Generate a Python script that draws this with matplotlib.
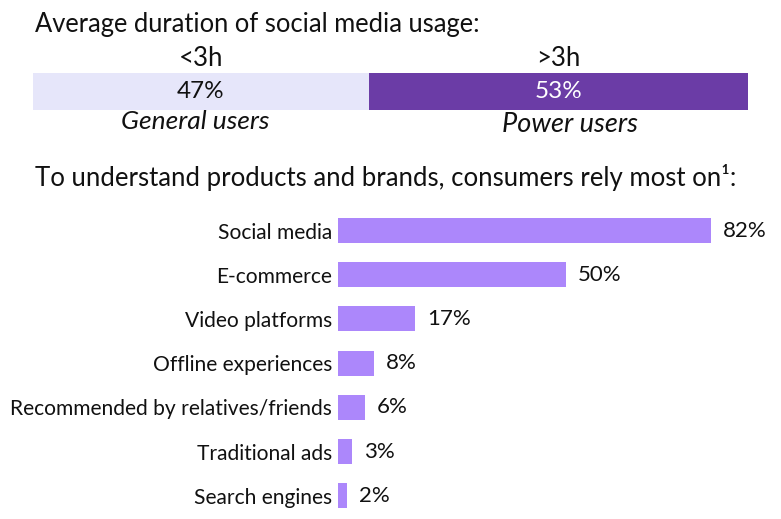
import matplotlib
matplotlib.use("Agg")
import matplotlib.pyplot as plt

plt.rcParams['font.family'] = ['Lato', 'DejaVu Sans']

# data
usage_groups = ['<3h', '>3h']
usage_names = ['General users', 'Power users']
usage_share = [47, 53]
usage_colors = ['#E6E6FA', '#6B3CA6']
usage_text_colors = ['#111111', '#FFFFFF']

sources = ['Social media', 'E-commerce', 'Video platforms', 'Offline experiences',
           'Recommended by relatives/friends', 'Traditional ads', 'Search engines']
source_share = [82, 50, 17, 8, 6, 3, 2]
bar_color = '#AC87FB'

W, H = 781, 519
fig = plt.figure(figsize=(W / 100, H / 100), dpi=100)


def fx(px):
    return px / W


def fy(py):
    return 1 - py / H


# titles
fig.text(fx(35), fy(32), 'Average duration of social media usage:', fontsize=18.4,
         ha='left', va='baseline', color='#111111')
fig.text(fx(35), fy(186), 'To understand products and brands, consumers rely most on¹:',
         fontsize=18.5, ha='left', va='baseline', color='#111111')

# top split bar
ax_top = fig.add_axes([fx(33), fy(110), fx(748) - fx(33), (110 - 73) / H])
left = 0
name_pos = [22.7, 75.1]
for i, v in enumerate(usage_share):
    ax_top.barh(0, v, left=left, height=1, color=usage_colors[i])
    mid = left + v / 2
    ax_top.text(mid, 0, f'{v}%', ha='center', va='center', fontsize=17.5,
                color=usage_text_colors[i])
    ax_top.text(mid, 1.0 + (73 - 66) / 37, usage_groups[i], ha='center', va='baseline',
                fontsize=18.5, color='#111111',
                transform=ax_top.get_xaxis_transform())
    left += v
ax_top.text(name_pos[0], -(129 - 110) / 37, usage_names[0], ha='center', va='baseline',
            fontsize=19, style='italic', color='#111111',
            transform=ax_top.get_xaxis_transform())
ax_top.text(name_pos[1], -(132 - 110) / 37, usage_names[1], ha='center', va='baseline',
            fontsize=19.5, style='italic', color='#111111',
            transform=ax_top.get_xaxis_transform())
ax_top.set_xlim(0, 100)
ax_top.set_ylim(-0.5, 0.5)
ax_top.axis('off')

# bottom bar chart
row = 44.2
top_px = 230.5 - row / 2
ax = fig.add_axes([fx(338), fy(top_px + 7 * row), fx(748) - fx(338), 7 * row / H])
ypos = list(range(len(sources)))
ax.barh(ypos, source_share, height=25 / row, color=bar_color)
for y, v in zip(ypos, source_share):
    ax.annotate(f'{v}%', (v, y), xytext=(8.6, 0), textcoords='offset points',
                ha='left', va='center', fontsize=16, color='#111111')
ax.set_yticks(ypos)
ax.set_yticklabels(sources, fontsize=15.1, color='#111111')
ax.tick_params(axis='y', length=0, pad=4.3)
ax.set_xticks([])
ax.set_xlim(0, (748 - 338) / 4.55)
ax.set_ylim(len(sources) - 0.5, -0.5)
for s in ax.spines.values():
    s.set_visible(False)

fig.savefig('out.png', dpi=100)
